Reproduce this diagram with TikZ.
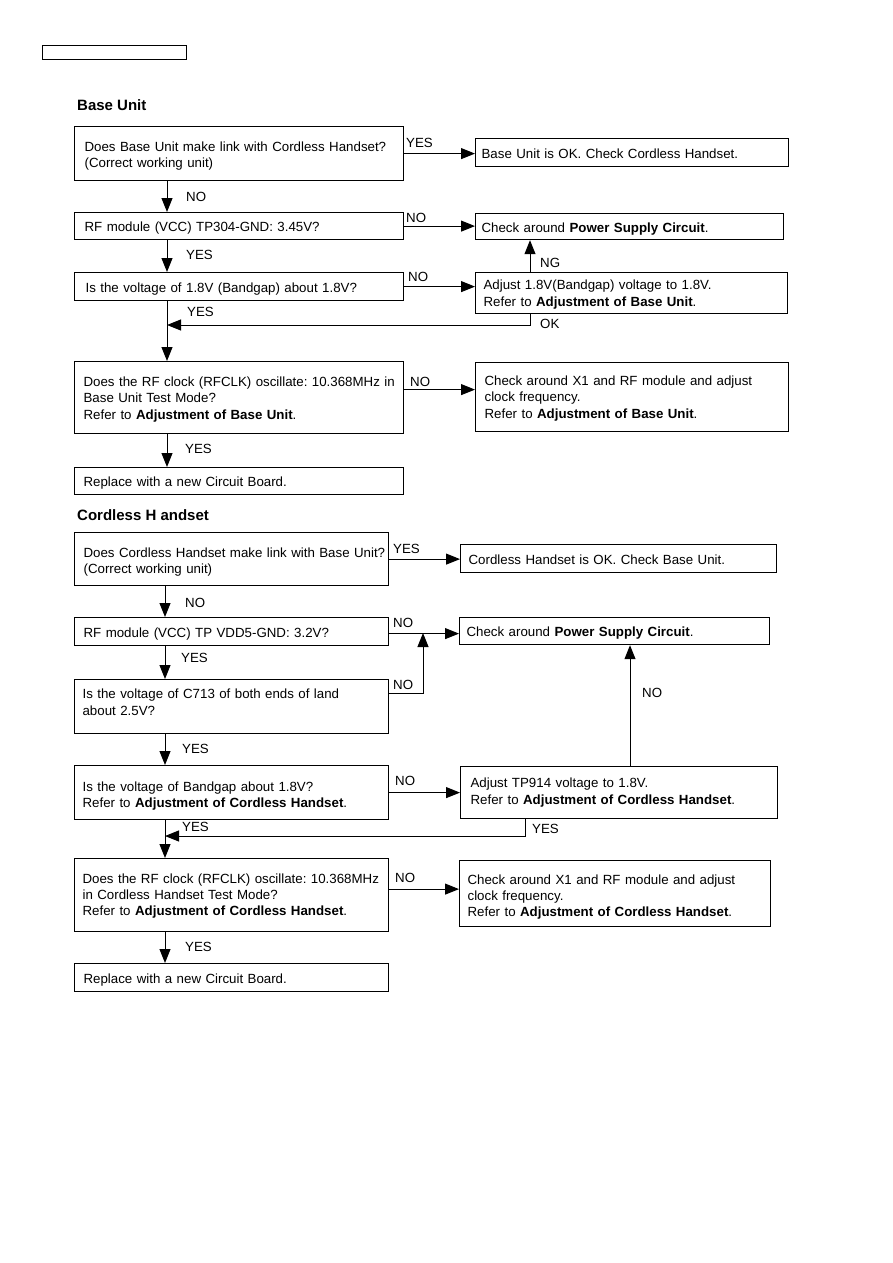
\documentclass[tikz,border=0pt]{standalone}
\usepackage{fontspec}
\setmainfont{Liberation Sans}
\usetikzlibrary{arrows.meta}
\frenchspacing
\newcommand\mylines[2][-2.5pt]{\raisebox{#1}[\height][\depth]{\begin{tabular}{@{}l@{}}#2\end{tabular}}}
\begin{document}
\begin{tikzpicture}[x=1pt,y=-1pt,
 box/.style n args={4}{draw, line width=1.2pt, anchor=north west, inner ysep=0pt, align=left,
   font=\fontsize{13.3}{16.3}\selectfont, minimum width=#1pt, minimum height=#2pt, inner xsep=#3pt, text width=#4pt},
 lbl/.style={anchor=west, inner sep=0pt, font=\fontsize{13.3}{16}\selectfont},
 ttl/.style={anchor=west, inner sep=0pt, font=\bfseries\fontsize{15}{18}\selectfont},
 arr/.style={line width=1pt, -{Triangle[length=14pt,width=11pt]}}]
\useasboundingbox (0,0) rectangle (893,1263);

% header box
\node[draw, line width=1.2pt, anchor=north west, minimum width=144pt, minimum height=14pt, inner sep=0pt] (hdr) at (42,45) {};

% ---------- Base Unit ----------
\node[ttl] (t1) at (77,105) {Base Unit};

\node[box={329}{54}{10}{309}] (B1) at (74,126) {\mylines{Does Base Unit make link with Cordless Handset?\\(Correct working unit)}};
\node[box={313}{28}{6}{301}] (Bok) at (475,138) {\mylines{Base Unit is OK. Check Cordless Handset.}};
\node[box={329}{27}{10}{309}] (B2) at (74,212) {\mylines{RF module (VCC) TP304-GND: 3.45V?}};
\node[box={308}{26}{6}{296}] (Bpsc) at (475,213) {\mylines{Check around \textbf{Power Supply Circuit}.}};
\node[box={329}{28}{11}{307}] (B3) at (74,272) {\mylines{Is the voltage of 1.8V (Bandgap) about 1.8V?}};
\node[box={312}{41}{8}{296}] (Badj) at (475,272) {\mylines[-1.5pt]{Adjust 1.8V(Bandgap) voltage to 1.8V.\\Refer to \textbf{Adjustment of Base Unit}.}};
\node[box={329}{72}{9}{311}] (B4) at (74,361) {\mylines[-2pt]{Does the RF clock (RFCLK) oscillate: 10.368MHz in\\Base Unit Test Mode?\\Refer to \textbf{Adjustment of Base Unit}.}};
\node[box={313}{69}{9}{295}] (Bx1) at (475,362) {\mylines[-1.5pt]{Check around X1 and RF module and adjust\\clock frequency.\\Refer to \textbf{Adjustment of Base Unit}.}};
\node[box={329}{27}{9}{311}] (B5) at (74,467) {\mylines{Replace with a new Circuit Board.}};

\coordinate (bx) at (167,0);
\coordinate (ng) at (530,0);
\coordinate (okl) at (167,325);

\draw[arr] (B1.east) -- (B1.east -| Bok.west);
\draw[arr] (bx |- B1.south) -- (bx |- B2.north);
\draw[arr] (B2.east) -- (B2.east -| Bpsc.west);
\draw[arr] (bx |- B2.south) -- (bx |- B3.north);
\draw[arr] (B3.east) -- (B3.east -| Badj.west);
\draw[arr] (ng |- Badj.north) -- (ng |- Bpsc.south);
\draw[arr] (ng |- Badj.south) |- (okl);
\draw[arr] (bx |- B3.south) -- (bx |- B4.north);
\draw[arr] ([yshift=8pt]B4.east) -- ([yshift=8pt]B4.east -| Bx1.west);
\draw[arr] (bx |- B4.south) -- (bx |- B5.north);

\node[lbl] (l1) at (406,143) {YES};
\node[lbl] (l2) at (186,197) {NO};
\node[lbl] (l3) at (406,218) {NO};
\node[lbl] (l4) at (186,255) {YES};
\node[lbl] (l5) at (408,277) {NO};
\node[lbl] (l6) at (540,263) {NG};
\node[lbl] (l7) at (187,312) {YES};
\node[lbl] (l8) at (540,324) {OK};
\node[lbl] (l9) at (410,382) {NO};
\node[lbl] (l10) at (185,449) {YES};

% ---------- Cordless Handset ----------
\node[ttl] (t2) at (77,515) {Cordless H andset};

\node[box={314}{53}{9}{296}] (C1) at (74,532) {\mylines[-3pt]{Does Cordless Handset make link with Base Unit?\\(Correct working unit)}};
\node[box={316}{28}{8}{300}] (Cok) at (460,544) {\mylines{Cordless Handset is OK. Check Base Unit.}};
\node[box={314}{28}{9}{296}] (C2) at (74,617) {\mylines{RF module (VCC) TP VDD5-GND: 3.2V?}};
\node[box={310}{27}{7}{296}] (Cpsc) at (459,617) {\mylines{Check around \textbf{Power Supply Circuit}.}};
\node[box={314}{54}{8}{298}] (C3) at (74,679) {\mylines[3pt]{Is the voltage of C713 of both ends of land\\about 2.5V?}};
\node[box={314}{54}{8}{298}] (C4) at (74,765) {\mylines[-3.5pt]{Is the voltage of Bandgap about 1.8V?\\Refer to \textbf{Adjustment of Cordless Handset}.}};
\node[box={317}{52}{10}{297}] (Cadj) at (460,766) {\mylines[0pt]{Adjust TP914 voltage to 1.8V.\\Refer to \textbf{Adjustment of Cordless Handset}.}};
\node[box={314}{73}{8}{298}] (C5) at (74,858) {\mylines[-1pt]{Does the RF clock (RFCLK) oscillate: 10.368MHz\\in Cordless Handset Test Mode?\\Refer to \textbf{Adjustment of Cordless Handset}.}};
\node[box={311}{66}{8}{295}] (Cx1) at (459,860) {\mylines[-3.5pt]{Check around X1 and RF module and adjust\\clock frequency.\\Refer to \textbf{Adjustment of Cordless Handset}.}};
\node[box={314}{28}{9}{296}] (C6) at (74,963) {\mylines{Replace with a new Circuit Board.}};

\coordinate (cx) at (165,0);
\coordinate (j) at (423,633);
\coordinate (cn) at (630,0);
\coordinate (cy) at (525,0);
\coordinate (cyl) at (165,836);

\draw[arr] (C1.east) -- (C1.east -| Cok.west);
\draw[arr] (cx |- C1.south) -- (cx |- C2.north);
\draw[arr] ([yshift=-2pt]C2.east) -- ([yshift=-2pt]C2.east -| Cpsc.west);
\draw[arr] ([yshift=13pt]C3.east) -| (j);
\draw[arr] (cx |- C2.south) -- (cx |- C3.north);
\draw[arr] (cx |- C3.south) -- (cx |- C4.north);
\draw[arr] (C4.east) -- (C4.east -| Cadj.west);
\draw[arr] (cn |- Cadj.north) -- (cn |- Cpsc.south);
\draw[arr] (cy |- Cadj.south) |- (cyl);
\draw[arr] (cx |- C4.south) -- (cx |- C5.north);
\draw[arr] ([yshift=6pt]C5.east) -- ([yshift=6pt]C5.east -| Cx1.west);
\draw[arr] (cx |- C5.south) -- (cx |- C6.north);

\node[lbl] (m1) at (393,549) {YES};
\node[lbl] (m2) at (185,603) {NO};
\node[lbl] (m3) at (393,623) {NO};
\node[lbl] (m4) at (181,658) {YES};
\node[lbl] (m5) at (393,685) {NO};
\node[lbl] (m6) at (642,693) {NO};
\node[lbl] (m7) at (182,749) {YES};
\node[lbl] (m8) at (395,781) {NO};
\node[lbl] (m9) at (182,827) {YES};
\node[lbl] (m10) at (532,829) {YES};
\node[lbl] (m11) at (395,878) {NO};
\node[lbl] (m12) at (185,947) {YES};
\end{tikzpicture}
\end{document}
